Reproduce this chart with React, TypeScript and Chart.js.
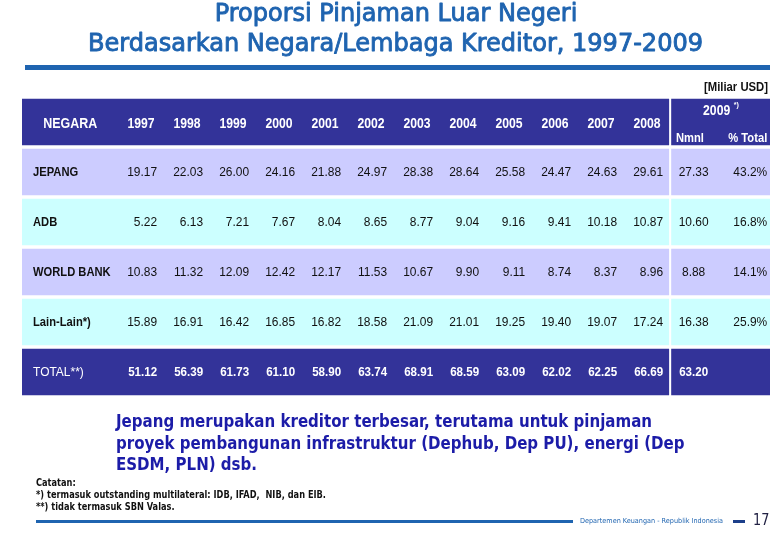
import React, { useEffect, useRef } from "react";
import { Chart, registerables } from "chart.js";

Chart.register(...registerables);

// ---------- data ----------
const years = ["1997", "1998", "1999", "2000", "2001", "2002", "2003", "2004", "2005", "2006", "2007", "2008"];
const rowLabels = ["JEPANG", "ADB", "WORLD BANK", "Lain-Lain*)", "TOTAL**)"];
const jepang = [19.17, 22.03, 26.0, 24.16, 21.88, 24.97, 28.38, 28.64, 25.58, 24.47, 24.63, 29.61];
const adb = [5.22, 6.13, 7.21, 7.67, 8.04, 8.65, 8.77, 9.04, 9.16, 9.41, 10.18, 10.87];
const worldBank = [10.83, 11.32, 12.09, 12.42, 12.17, 11.53, 10.67, 9.9, 9.11, 8.74, 8.37, 8.96];
const lainLain = [15.89, 16.91, 16.42, 16.85, 16.82, 18.58, 21.09, 21.01, 19.25, 19.4, 19.07, 17.24];
const total = [51.12, 56.39, 61.73, 61.1, 58.9, 63.74, 68.91, 68.59, 63.09, 62.02, 62.25, 66.69];
const nominal2009 = [27.33, 10.6, 8.88, 16.38, 63.2];
const pct2009: (number | null)[] = [43.2, 16.8, 14.1, 25.9, null];

const titleLines = ["Proporsi Pinjaman Luar Negeri", "Berdasarkan Negara/Lembaga Kreditor, 1997-2009"];
const noteLines = [
  "Jepang merupakan kreditor terbesar, terutama untuk pinjaman",
  "proyek pembangunan infrastruktur (Dephub, Dep PU), energi (Dep",
  "ESDM, PLN) dsb.",
];
const catatanLines = [
  "Catatan:",
  "*) termasuk outstanding multilateral: IDB, IFAD,  NIB, dan EIB.",
  "**) tidak termasuk SBN Valas.",
];

const seriesRows = [jepang, adb, worldBank, lainLain, total];
const tableRows = ["NEGARA", ...rowLabels];

// ---------- layout (column units) ----------
const COL0 = 2.087; // start of first year column
const SPLIT = COL0 + years.length; // start of 2009 block
const XMAX = 16.26;

const NAVY = "#333399";
const LAV = "#ccccff";
const CYAN = "#ccffff";
const rowColors = [NAVY, LAV, CYAN, LAV, CYAN, NAVY];

function txt(
  ctx: CanvasRenderingContext2D,
  s: string,
  x: number,
  y: number,
  align: CanvasTextAlign,
  font: string,
  color: string,
  sx = 1,
  stroke = 0
) {
  ctx.save();
  ctx.font = font;
  ctx.fillStyle = color;
  ctx.textBaseline = "middle";
  ctx.textAlign = align;
  ctx.translate(x, y);
  ctx.scale(sx, 1);
  ctx.fillText(s, 0, 0);
  if (stroke > 0) {
    ctx.strokeStyle = color;
    ctx.lineWidth = stroke;
    ctx.lineJoin = "round";
    ctx.strokeText(s, 0, 0);
  }
  ctx.restore();
}

function fitScale(ctx: CanvasRenderingContext2D, s: string, font: string, width: number) {
  ctx.save();
  ctx.font = font;
  const w = ctx.measureText(s).width;
  ctx.restore();
  return width / w;
}

const tablePlugin = {
  id: "tableText",
  afterDatasetsDraw(chart: any) {
    const ctx: CanvasRenderingContext2D = chart.ctx;
    const x = chart.scales.x;
    const y = chart.scales.y;
    const fmt = (v: number) => v.toFixed(2);

    // header
    const hy = y.getPixelForValue(0);
    const hFont = "bold 14px 'Liberation Sans', Arial, sans-serif";
    const h2Font = "bold 13px 'Liberation Sans', Arial, sans-serif";
    txt(ctx, tableRows[0], x.getPixelForValue(1.05), hy + 2, "center", hFont, "#ffffff", 0.89);
    years.forEach((yr, i) => {
      txt(ctx, yr, x.getPixelForValue(COL0 + i + 0.5), hy + 2, "center", hFont, "#ffffff", 0.87);
    });
    txt(ctx, "2009", x.getPixelForValue(15.1), 111, "center", hFont, "#ffffff", 0.87);
    txt(ctx, "*)", x.getPixelForValue(15.47), 105, "left", "bold 8px 'Liberation Sans', Arial, sans-serif", "#ffffff", 0.9);
    txt(ctx, "Nmnl", x.getPixelForValue(14.52), 138, "center", h2Font, "#ffffff", 0.86);
    txt(ctx, "% Total", x.getPixelForValue(16.2), 138, "right", h2Font, "#ffffff", 0.86);

    // body rows
    seriesRows.forEach((vals, r) => {
      const ri = r + 1;
      const cy = y.getPixelForValue(ri);
      const isTotal = ri === tableRows.length - 1;
      const color = isTotal ? "#ffffff" : "#111111";
      const lblFont = isTotal
        ? "13px 'Liberation Sans', Arial, sans-serif"
        : "bold 13px 'Liberation Sans', Arial, sans-serif";
      txt(ctx, tableRows[ri], x.getPixelForValue(0.24), cy, "left", lblFont, color, isTotal ? 0.92 : 0.86);
      const vFont = isTotal
        ? "bold 13px 'Liberation Sans', Arial, sans-serif"
        : "13px 'Liberation Sans', Arial, sans-serif";
      const vsx = isTotal ? 0.89 : 0.92;
      vals.forEach((v, i) => {
        txt(ctx, fmt(v), x.getPixelForValue(COL0 + i + 1 - 0.15), cy, "right", vFont, color, vsx);
      });
      txt(ctx, fmt(nominal2009[r]), x.getPixelForValue(14.6), cy, "center", vFont, color, vsx);
      const p = pct2009[r];
      if (p !== null) {
        txt(ctx, p.toFixed(1) + "%", x.getPixelForValue(16.2), cy, "right", vFont, color, vsx);
      }
    });
  },
  afterDraw(chart: any) {
    const ctx: CanvasRenderingContext2D = chart.ctx;
    const blue = "#1f64b0";

    // titles
    const tFont = "24px 'DejaVu Sans Condensed', 'DejaVu Sans', sans-serif";
    const s2 = fitScale(ctx, titleLines[1], tFont, 615);
    txt(ctx, titleLines[0], 396, 15, "center", tFont, blue, s2, 0.8);
    txt(ctx, titleLines[1], 395.5, 45, "center", tFont, blue, s2, 0.8);

    // rule under title
    ctx.fillStyle = blue;
    ctx.fillRect(25, 65, 745, 5);

    // unit label
    const uFont = "bold 12px 'Liberation Sans', Arial, sans-serif";
    txt(ctx, "[Miliar USD]", 768, 88, "right", uFont, "#111111", fitScale(ctx, "[Miliar USD]", uFont, 64));

    // notes
    const nFont = "bold 17px 'DejaVu Sans Condensed', 'DejaVu Sans', sans-serif";
    const ns = fitScale(ctx, noteLines[0], nFont, 536);
    noteLines.forEach((l, i) => txt(ctx, l, 116, 423 + i * 21.5, "left", nFont, "#1c1ca8", ns));

    const cFont = "bold 10px 'DejaVu Sans Condensed', 'DejaVu Sans', sans-serif";
    const cs = fitScale(ctx, catatanLines[1], cFont, 290);
    catatanLines.forEach((l, i) => txt(ctx, l, 36, 483 + i * 12, "left", cFont, "#111111", cs));

    // footer
    ctx.fillStyle = blue;
    ctx.fillRect(36, 520, 537, 3);
    const fFont = "7px 'DejaVu Sans Condensed', 'DejaVu Sans', sans-serif";
    const ft = "Departemen Keuangan - Republik Indonesia";
    txt(ctx, ft, 580, 521, "left", fFont, blue, fitScale(ctx, ft, fFont, 143));
    ctx.fillStyle = "#1c3f8a";
    ctx.fillRect(733, 520, 12, 3);
    txt(ctx, "17", 753, 521, "left", "15px 'DejaVu Sans Condensed', 'DejaVu Sans', sans-serif", "#222244", 0.95);
  },
};

export default function App() {
  const ref = useRef<HTMLCanvasElement | null>(null);
  useEffect(() => {
    if (!ref.current) return;
    const chart = new Chart(ref.current, {
      type: "bar",
      data: {
        labels: tableRows,
        datasets: [
          {
            label: "1997-2008",
            data: tableRows.map(() => [0, SPLIT - 0.02]) as any,
            backgroundColor: rowColors,
            borderWidth: 0,
            grouped: false,
            categoryPercentage: 1,
            barPercentage: 0.93,
          } as any,
          {
            label: "2009",
            data: tableRows.map(() => [SPLIT + 0.025, XMAX]) as any,
            backgroundColor: rowColors,
            borderWidth: 0,
            grouped: false,
            categoryPercentage: 1,
            barPercentage: 0.93,
          } as any,
        ],
      },
      options: {
        indexAxis: "y",
        responsive: false,
        maintainAspectRatio: false,
        animation: false,
        layout: { padding: { left: 22, right: 10, top: 97, bottom: 143 } },
        plugins: { legend: { display: false }, tooltip: { enabled: false }, title: { display: false } },
        scales: {
          x: { type: "linear", min: 0, max: XMAX, display: false },
          y: { type: "category", display: false, offset: true },
        },
      },
      plugins: [tablePlugin],
    });
    return () => chart.destroy();
  }, []);
  return (
    <div style={{ position: "absolute", left: 0, top: 0, width: 780, height: 540, background: "#ffffff" }}>
      <canvas ref={ref} width={780} height={540} style={{ display: "block" }} />
    </div>
  );
}
